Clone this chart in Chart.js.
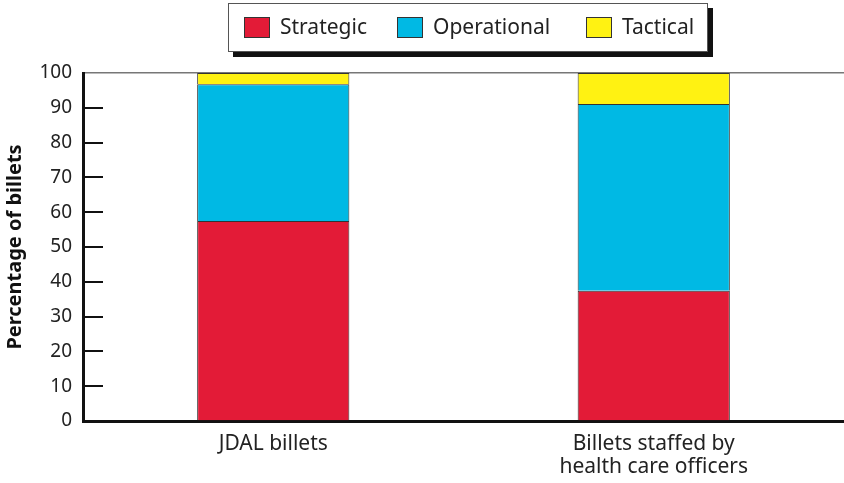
<!DOCTYPE html>
<html>
<head>
<meta charset="utf-8">
<title>Billets by level</title>
<script src="https://cdn.jsdelivr.net/npm/chart.js@4"></script>
<style>
  html, body { margin: 0; padding: 0; background: #fff; overflow: hidden; }
  #wrap { width: 844px; height: 483px; }
  canvas { display: block; }
</style>
</head>
<body>
<div id="wrap"><canvas id="billetChart" width="844" height="483"></canvas></div>
<script>
// Chart data
const categories = ['JDAL billets', ['Billets staffed by', 'health care officers']];
const seriesNames = ['Strategic', 'Operational', 'Tactical'];
const strategic = [57.5, 37.4];
const operational = [39.3, 53.7];
const tactical = [3.2, 8.9];
const yTicks = [10, 20, 30, 40, 50, 60, 70, 80, 90];

const colors = ['#e31b37', '#00b9e4', '#fff212'];
const FONT = '"Noto Sans", "Open Sans", sans-serif';

// Tick marks sit inside the plot, to the right of the axis
const innerTicks = {
  id: 'innerTicks',
  afterDatasetsDraw(chart) {
    const { ctx, chartArea } = chart;
    const y = chart.scales.y;
    ctx.save();
    ctx.strokeStyle = '#111';
    ctx.lineWidth = 2;
    yTicks.forEach(v => {
      const py = Math.round(y.getPixelForValue(v));
      ctx.beginPath();
      ctx.moveTo(chartArea.left, py);
      ctx.lineTo(chartArea.left + 20, py);
      ctx.stroke();
    });
    ctx.restore();
  }
};

// Framed legend with drop shadow
const legendFrame = { x: 228, y: 3, w: 480, h: 49 };
const legendItemX = [244, 397, 586];

const boxLegend = {
  id: 'boxLegend',
  afterDraw(chart) {
    const { ctx } = chart;
    const f = legendFrame;
    ctx.save();
    ctx.fillStyle = '#111';
    ctx.fillRect(f.x + 5, f.y + 5, f.w, f.h);
    ctx.fillStyle = '#fff';
    ctx.fillRect(f.x, f.y, f.w, f.h);
    ctx.strokeStyle = '#555';
    ctx.lineWidth = 1;
    ctx.strokeRect(f.x + 0.5, f.y + 0.5, f.w - 1, f.h - 1);

    ctx.font = '21px ' + FONT;
    ctx.textBaseline = 'middle';
    chart.data.datasets.forEach((ds, i) => {
      const x = legendItemX[i];
      ctx.fillStyle = ds.backgroundColor;
      ctx.fillRect(x, 17, 26, 21);
      ctx.strokeStyle = '#333';
      ctx.strokeRect(x + 0.5, 17.5, 25, 20);
      ctx.fillStyle = '#222';
      ctx.fillText(ds.label, x + 36, 28);
    });
    ctx.restore();
  }
};

const datasets = [strategic, operational, tactical].map((values, i) => ({
  label: seriesNames[i],
  data: values,
  backgroundColor: colors[i],
  borderColor: '#333',
  borderWidth: 1,
  barPercentage: 0.8,
  categoryPercentage: 0.5
}));

new Chart(document.getElementById('billetChart'), {
  type: 'bar',
  data: { labels: categories, datasets: datasets },
  options: {
    responsive: false,
    animation: false,
    layout: { padding: { top: 73, left: 0, right: 0, bottom: 0 } },
    plugins: {
      legend: { display: false },
      tooltip: { enabled: false }
    },
    scales: {
      x: {
        stacked: true,
        grid: { display: false, drawTicks: false },
        border: { display: true, color: '#111', width: 3 },
        ticks: {
          color: '#222',
          padding: 11,
          font: { family: FONT, size: 21, lineHeight: 1.1 }
        },
        afterFit: scale => { scale.height = 62; }
      },
      y: {
        stacked: true,
        min: 0,
        max: 100,
        grid: {
          drawTicks: false,
          color: c => (c.tick && c.tick.value === 100 ? '#777' : 'rgba(0,0,0,0)'),
          lineWidth: 1.5
        },
        border: { display: true, color: '#111', width: 3 },
        ticks: {
          stepSize: 10,
          color: '#222',
          padding: 11,
          font: { family: FONT, size: 19 }
        },
        title: {
          display: true,
          text: 'Percentage of billets',
          color: '#111',
          padding: { top: 3, bottom: 0 },
          font: { family: FONT, size: 20, weight: 'bold' }
        },
        afterFit: scale => { scale.width = 83; }
      }
    }
  },
  plugins: [innerTicks, boxLegend]
});
</script>
</body>
</html>
